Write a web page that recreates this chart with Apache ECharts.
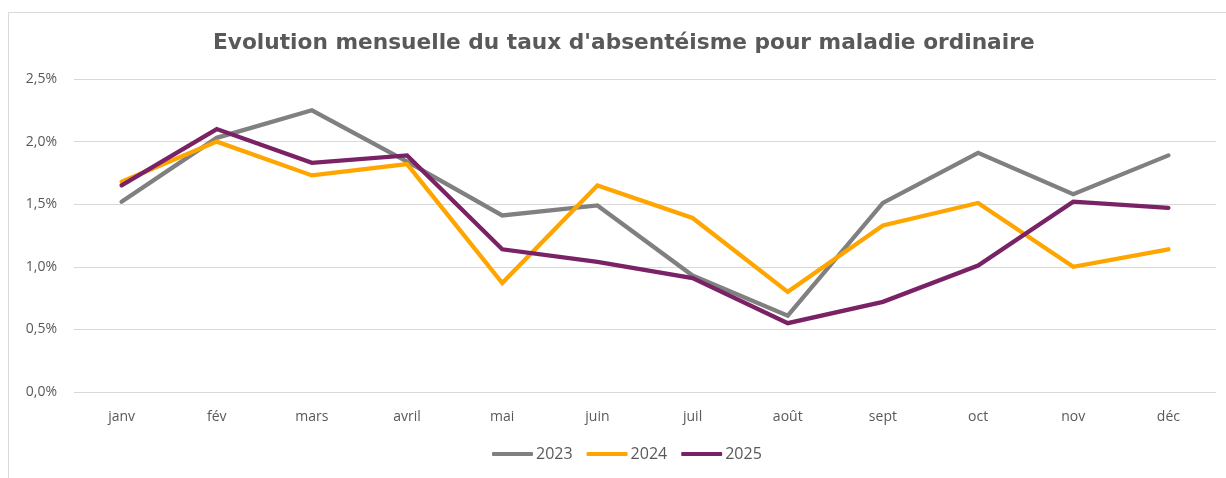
<!DOCTYPE html>
<html>
<head>
<meta charset="utf-8">
<script src="https://cdn.jsdelivr.net/npm/echarts@6/dist/echarts.min.js"></script>
<style>
  html, body { margin: 0; padding: 0; background: #ffffff; }
  #chart { width: 1226px; height: 478px; }
</style>
</head>
<body>
<div id="chart"></div>
<script>
// Mois et taux mensuels d'absentéisme pour maladie ordinaire (en %)
const months = ['janv', 'fév', 'mars', 'avril', 'mai', 'juin', 'juil', 'août', 'sept', 'oct', 'nov', 'déc'];
const rate2023 = [1.52, 2.03, 2.25, 1.84, 1.41, 1.49, 0.93, 0.61, 1.51, 1.91, 1.58, 1.89];
const rate2024 = [1.68, 2.00, 1.73, 1.82, 0.87, 1.65, 1.39, 0.80, 1.33, 1.51, 1.00, 1.14];
const rate2025 = [1.65, 2.10, 1.83, 1.89, 1.14, 1.04, 0.91, 0.55, 0.72, 1.01, 1.52, 1.47];

const seriesNames = ['2023', '2024', '2025'];
const seriesColors = ['#808080', '#FFA500', '#7A2266'];
const seriesData = [rate2023, rate2024, rate2025];

const chart = echarts.init(document.getElementById('chart'));

const labelFont = '"Open Sans", "Liberation Sans", sans-serif';

chart.setOption({
  animation: false,
  backgroundColor: '#ffffff',
  graphic: [{
    type: 'rect',
    shape: { x: 8.5, y: 12.5, width: 1240, height: 480 },
    style: { fill: 'none', stroke: '#d9d9d9', lineWidth: 1 },
    silent: true,
    z: -1
  }],
  title: {
    text: "Evolution mensuelle du taux d'absentéisme pour maladie ordinaire",
    left: 208,
    top: 27,
    textStyle: {
      fontFamily: '"DejaVu Sans", Verdana, sans-serif',
      fontWeight: 'bold',
      fontSize: 21.7,
      color: '#595959'
    }
  },
  legend: {
    bottom: 11,
    left: 487,
    itemWidth: 41,
    itemHeight: 4,
    itemGap: 14,
    icon: 'roundRect',
    textStyle: { fontFamily: labelFont, fontSize: 16, color: '#595959', padding: [0, 0, 0, -2] },
    data: seriesNames
  },
  grid: { left: 74, right: 10, top: 79, bottom: 86, containLabel: false },
  xAxis: {
    type: 'category',
    data: months,
    boundaryGap: true,
    axisLine: { show: false },
    axisTick: { show: false },
    axisLabel: { fontFamily: labelFont, fontSize: 14, color: '#595959', margin: 18 }
  },
  yAxis: {
    type: 'value',
    min: 0,
    max: 2.5,
    interval: 0.5,
    axisLine: { show: false },
    axisTick: { show: false },
    splitLine: { lineStyle: { color: '#d9d9d9', width: 1 } },
    axisLabel: {
      fontFamily: labelFont,
      fontSize: 14,
      color: '#595959',
      margin: 17,
      formatter: v => v.toFixed(1).replace('.', ',') + '%'
    }
  },
  series: seriesNames.map((name, i) => ({
    name: name,
    type: 'line',
    data: seriesData[i],
    color: seriesColors[i],
    symbol: 'none',
    lineStyle: { width: 4.3, color: seriesColors[i], cap: 'round', join: 'miter' }
  }))
});
</script>
</body>
</html>
